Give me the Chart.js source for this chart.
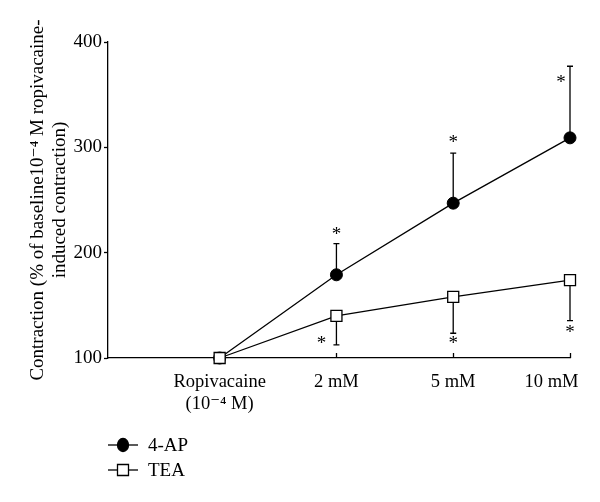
<!DOCTYPE html>
<html>
<head>
<meta charset="utf-8">
<script src="https://cdn.jsdelivr.net/npm/chart.js@4"></script>
<style>
  html, body { margin: 0; padding: 0; background: #fff; }
  canvas { display: block; }
</style>
</head>
<body>
<canvas id="chart" width="600" height="502"></canvas>
<script>
  // categories and values
  const xLabels = [['Ropivacaine', '(10\u207B\u2074 M)'], '2 mM', '5 mM', '10 mM'];
  const apMean = [100, 179, 247, 309];
  const apErr = [0, 29.5, 47.5, 68];      // drawn upward only
  const teaMean = [100, 140, 158, 174];
  const teaErr = [0, 27.5, 34.5, 38.5];   // drawn downward only
  const yTicks = [100, 200, 300, 400];
  const apStar = [false, true, true, true];
  const teaStar = [false, true, true, true];

  const serif = "'Liberation Serif', 'DejaVu Serif', serif";
  const ink = '#000';

  const toPoints = (arr) => arr.map((v, i) => ({ x: i, y: v }));

  // error bars, asterisks, inward x ticks and the little legend
  const extras = {
    id: 'extras',
    beforeDatasetsDraw(chart) {
      const { ctx, scales: { x, y } } = chart;
      ctx.save();
      ctx.strokeStyle = ink;
      ctx.lineWidth = 1.3;
      const bar = (i, from, to) => {
        const px = x.getPixelForValue(i);
        ctx.beginPath();
        ctx.moveTo(px, y.getPixelForValue(from));
        ctx.lineTo(px, y.getPixelForValue(to));
        ctx.moveTo(px - 3, y.getPixelForValue(to));
        ctx.lineTo(px + 3, y.getPixelForValue(to));
        ctx.stroke();
      };
      apMean.forEach((m, i) => { if (apErr[i]) bar(i, m, m + apErr[i]); });
      teaMean.forEach((m, i) => { if (teaErr[i]) bar(i, m, m - teaErr[i]); });
      ctx.restore();
    },
    afterDraw(chart) {
      const { ctx, scales: { x, y } } = chart;
      ctx.save();
      ctx.fillStyle = ink;
      ctx.strokeStyle = ink;
      ctx.lineWidth = 1.3;

      // ticks pointing into the plot
      for (let i = 1; i < xLabels.length; i++) {
        const px = Math.round(x.getPixelForValue(i)) + 0.5;
        ctx.beginPath();
        ctx.moveTo(px, y.bottom);
        ctx.lineTo(px, y.bottom - 5);
        ctx.stroke();
      }

      // asterisks (offsets are placement only)
      ctx.font = '19px ' + serif;
      ctx.textAlign = 'center';
      ctx.textBaseline = 'middle';
      const apOff = [null, [0, -13], [0, -14], [-9, 13]];
      const teaOff = [null, [-15, -5], [0, 7], [0, 8]];
      apMean.forEach((m, i) => {
        if (!apStar[i]) return;
        ctx.fillText('*', x.getPixelForValue(i) + apOff[i][0], y.getPixelForValue(m + apErr[i]) + apOff[i][1] + 4);
      });
      teaMean.forEach((m, i) => {
        if (!teaStar[i]) return;
        ctx.fillText('*', x.getPixelForValue(i) + teaOff[i][0], y.getPixelForValue(m - teaErr[i]) + teaOff[i][1] + 4);
      });

      // legend
      const items = [
        { label: '4-AP', fill: ink, shape: 'circle' },
        { label: 'TEA', fill: '#fff', shape: 'rect' }
      ];
      ctx.textAlign = 'left';
      items.forEach((it, k) => {
        const ly = 445 + k * 25;
        ctx.beginPath();
        ctx.moveTo(108, ly);
        ctx.lineTo(138, ly);
        ctx.stroke();
        ctx.fillStyle = it.fill;
        ctx.beginPath();
        if (it.shape === 'circle') ctx.ellipse(123, ly, 5.5, 6.5, 0, 0, Math.PI * 2);
        else ctx.rect(117.5, ly - 5.5, 11, 11);
        ctx.fill();
        ctx.stroke();
        ctx.fillStyle = ink;
        ctx.fillText(it.label, 148, ly + 1);
      });
      ctx.restore();
    }
  };

  // the last label sits pulled in from the edge, as in the original
  const tickText = (v) => (v === xLabels.length - 1 ? xLabels[v] + '\u2003\u2003' : xLabels[v]);

  new Chart(document.getElementById('chart'), {
    type: 'line',
    data: {
      datasets: [
        {
          label: 'TEA',
          data: toPoints(teaMean),
          order: 0,
          borderColor: ink,
          borderWidth: 1.3,
          pointStyle: 'rect',
          pointRadius: 7.8,
          pointBackgroundColor: '#fff',
          pointBorderColor: ink,
          pointBorderWidth: 1.3,
          tension: 0,
          clip: false
        },
        {
          label: '4-AP',
          data: toPoints(apMean),
          order: 1,
          borderColor: ink,
          borderWidth: 1.3,
          pointStyle: 'circle',
          pointRadius: 6,
          pointBackgroundColor: ink,
          pointBorderColor: ink,
          pointBorderWidth: 1,
          tension: 0,
          clip: false
        }
      ]
    },
    options: {
      responsive: false,
      devicePixelRatio: 1,
      animation: false,
      events: [],
      layout: { padding: { top: 42, right: 30, bottom: 84, left: 0 } },
      scales: {
        x: {
          type: 'linear',
          min: -0.956,
          max: 3,
          afterBuildTicks: (s) => { s.ticks = xLabels.map((_, i) => ({ value: i })); },
          afterFit: (s) => { s.height = 60; s.paddingLeft = 0; s.paddingRight = 0; },
          ticks: {
            callback: tickText,
            color: ink,
            font: { family: serif, size: 18.5, lineHeight: 1.2 },
            maxRotation: 0,
            autoSkip: false,
            padding: 13
          },
          grid: { drawOnChartArea: false, drawTicks: false },
          border: { color: ink, width: 1.3 }
        },
        y: {
          min: 100,
          max: 400,
          afterBuildTicks: (s) => { s.ticks = yTicks.map(v => ({ value: v })); },
          afterFit: (s) => { s.width = 108; s.paddingTop = 0; s.paddingBottom = 0; },
          ticks: {
            color: ink,
            font: { family: serif, size: 19 },
            padding: 2
          },
          grid: { drawOnChartArea: false, drawTicks: true, tickLength: 4, color: ink, tickWidth: 1.3 },
          border: { color: ink, width: 1.3 },
          title: {
            display: true,
            text: ['Contraction (% of baseline10\u207B\u2074 M ropivacaine-', 'induced contraction)'],
            color: ink,
            font: { family: serif, size: 19, lineHeight: 1.15 },
            padding: { top: 27, bottom: 0 }
          }
        }
      },
      plugins: {
        legend: { display: false },
        tooltip: { enabled: false }
      }
    },
    plugins: [extras]
  });
</script>
</body>
</html>
